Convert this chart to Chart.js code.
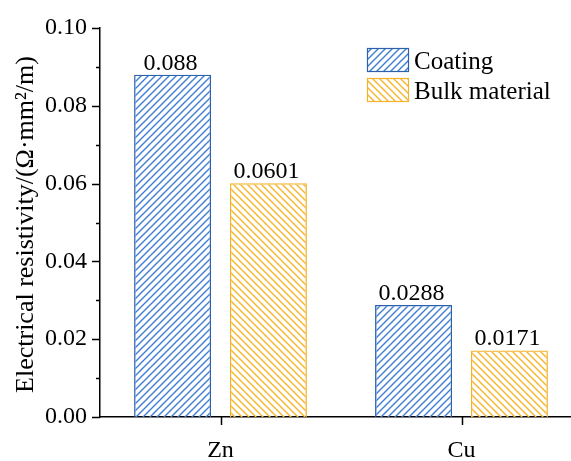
<!DOCTYPE html>
<html>
<head>
<meta charset="utf-8">
<script src="https://cdn.jsdelivr.net/npm/chart.js@4.4.0/dist/chart.umd.min.js"></script>
<style>
  html, body { margin: 0; padding: 0; background: #fff; overflow: hidden; width: 571px; height: 461px; }
  #c { display: block; }
</style>
</head>
<body>
<canvas id="c" width="590" height="461"></canvas>
<script>
// --- data ---
const categories = ['Zn', 'Cu'];
const seriesNames = ['Coating', 'Bulk material'];
const coating = [0.088, 0.0288];
const bulk = [0.0601, 0.0171];
const coatingLabels = ['0.088', '0.0288'];
const bulkLabels = ['0.0601', '0.0171'];
const yMajorTicks = [0, 0.02, 0.04, 0.06, 0.08, 0.10];
const yMinorTicks = [0.01, 0.03, 0.05, 0.07, 0.09];
const yTitle = 'Electrical resistivity/(Ω·mm²/m)';

const FONT = '"Liberation Serif", "Times New Roman", serif';
const BLUE = '#2c62ad', BLUE_HATCH = '#3d7ed4';
const ORANGE = '#f4b12a', ORANGE_HATCH = '#f6b62c';

// diagonal hatch tile; dir > 0 gives "/", otherwise "\"
function hatch(color, dir) {
  const s = 7;
  const c = document.createElement('canvas');
  c.width = c.height = s;
  const g = c.getContext('2d');
  g.strokeStyle = color;
  g.lineWidth = 1.4;
  g.beginPath();
  for (let k = -1; k <= 1; k++) {
    if (dir > 0) { g.moveTo(k * s - 1, s + 1); g.lineTo(k * s + s + 1, -1); }
    else { g.moveTo(k * s - 1, -1); g.lineTo(k * s + s + 1, s + 1); }
  }
  g.stroke();
  return g.createPattern(c, 'repeat');
}

const coatingFill = hatch(BLUE_HATCH, 1);
const bulkFill = hatch(ORANGE_HATCH, -1);

// ticks, tick labels, axis title, value labels and the in-plot legend
const decor = {
  id: 'decor',
  afterDraw(chart) {
    const ctx = chart.ctx;
    const y = chart.scales.y, x = chart.scales.x;
    const left = chart.chartArea.left, bottom = chart.chartArea.bottom;
    ctx.save();
    ctx.strokeStyle = '#000';
    ctx.lineWidth = 1.5;
    ctx.beginPath();
    yMajorTicks.forEach(v => { const p = Math.round(y.getPixelForValue(v)) + 0.5; ctx.moveTo(left, p); ctx.lineTo(left - 8, p); });
    yMinorTicks.forEach(v => { const p = Math.round(y.getPixelForValue(v)) + 0.5; ctx.moveTo(left, p); ctx.lineTo(left - 4, p); });
    categories.forEach((c, i) => { const p = Math.round(x.getPixelForValue(i)) + 0.5; ctx.moveTo(p, bottom); ctx.lineTo(p, bottom + 8); });
    ctx.stroke();

    ctx.fillStyle = '#000';
    ctx.font = '24px ' + FONT;

    // y tick labels
    ctx.textAlign = 'right';
    ctx.textBaseline = 'middle';
    yMajorTicks.forEach(v => ctx.fillText(v.toFixed(2), left - 13, y.getPixelForValue(v)));

    // x tick labels
    ctx.textAlign = 'center';
    ctx.textBaseline = 'alphabetic';
    categories.forEach((c, i) => ctx.fillText(c, x.getPixelForValue(i), bottom + 40));

    // value labels above bars
    [coatingLabels, bulkLabels].forEach((labels, di) => {
      chart.getDatasetMeta(di).data.forEach((bar, i) => {
        ctx.fillText(labels[i], bar.x - 2, bar.y - 5);
      });
    });

    // y axis title
    ctx.save();
    ctx.font = '26px ' + FONT;
    ctx.translate(33, (chart.chartArea.top + bottom) / 2 + 2);
    ctx.rotate(-Math.PI / 2);
    ctx.textAlign = 'center';
    ctx.fillText(yTitle, 0, 0);
    ctx.restore();

    // legend
    const fills = [coatingFill, bulkFill], borders = [BLUE, ORANGE];
    const lx = 367, ly = [48, 78], bw = 41, bh = 23;
    ctx.font = '25px ' + FONT;
    seriesNames.forEach((name, i) => {
      ctx.fillStyle = fills[i];
      ctx.fillRect(lx, ly[i], bw, bh);
      ctx.strokeStyle = borders[i];
      ctx.lineWidth = 1.2;
      ctx.strokeRect(lx + 0.5, ly[i] + 0.5, bw, bh);
      ctx.fillStyle = '#000';
      ctx.textAlign = 'left';
      ctx.textBaseline = 'alphabetic';
      ctx.fillText(name, lx + bw + 6, ly[i] + 21);
    });
    ctx.restore();
  }
};

new Chart(document.getElementById('c'), {
  type: 'bar',
  data: {
    labels: categories,
    datasets: [
      { label: seriesNames[0], data: coating, backgroundColor: coatingFill, borderColor: BLUE, borderWidth: 1.3 },
      { label: seriesNames[1], data: bulk, backgroundColor: bulkFill, borderColor: ORANGE, borderWidth: 1.3 },
    ],
  },
  options: {
    responsive: false,
    animation: false,
    devicePixelRatio: 1,
    categoryPercentage: 0.795,
    barPercentage: 0.804,
    layout: { padding: { top: 28, right: 8, bottom: 0, left: 0 } },
    plugins: { legend: { display: false }, tooltip: { enabled: false } },
    scales: {
      x: {
        grid: { display: false, drawTicks: false },
        border: { display: true, color: '#000', width: 1.5 },
        ticks: { display: false },
        afterFit: (s) => { s.height = 44; },
      },
      y: {
        min: 0, max: 0.1,
        grid: { display: false, drawTicks: false },
        border: { display: true, color: '#000', width: 1.5 },
        ticks: { display: false, stepSize: 0.02 },
        afterFit: (s) => { s.width = 100; },
      },
    },
  },
  plugins: [decor],
});
</script>
</body>
</html>
